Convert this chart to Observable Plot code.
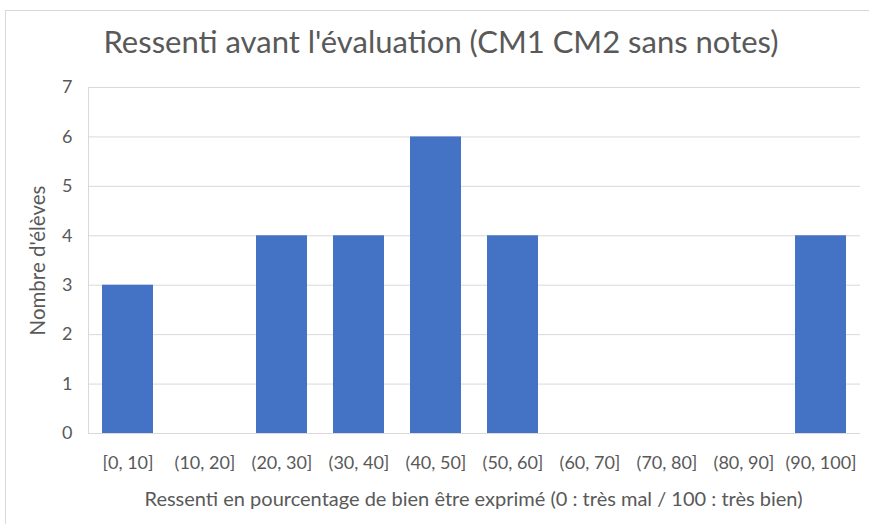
<!DOCTYPE html>
<html><head><meta charset="utf-8">
<script src="https://cdn.jsdelivr.net/npm/d3@7"></script>
<script src="https://cdn.jsdelivr.net/npm/@observablehq/plot@0.6"></script>
<style>
body{margin:0;background:#fff;}
#wrap{position:relative;width:869px;height:524px;font-family:Lato,sans-serif;overflow:hidden;}
#frame{position:absolute;left:5px;top:10px;width:870px;height:530px;border:1px solid #d9d9d9;box-sizing:border-box;}
#title{position:absolute;left:0;top:26px;width:882px;text-align:center;font-size:31px;line-height:1;color:#595959;}
#chart{position:absolute;left:0;top:0;}
</style></head><body>
<div id="wrap"><div id="frame"></div><div id="title">Ressenti avant l'évaluation (CM1 CM2 sans notes)</div><div id="chart"></div></div>
<script>
const categories = ["[0, 10]","(10, 20]","(20, 30]","(30, 40]","(40, 50]","(50, 60]","(60, 70]","(70, 80]","(80, 90]","(90, 100]"];
const counts = [3,0,4,4,6,4,0,0,0,4];
const yTicks = [0,1,2,3,4,5,6,7];
const xLabel = "Ressenti en pourcentage de bien être exprimé (0 : très mal / 100 : très bien)";
const yLabel = "Nombre d'élèves";
const data = categories.map((c,i)=>({cat:c, n:counts[i]}));
const chart = Plot.plot({
  width: 869, height: 524,
  marginLeft: 88, marginRight: 9, marginTop: 87, marginBottom: 91,
  style:{fontFamily:"Lato,sans-serif", color:"#595959", background:"transparent"},
  x:{domain:categories, paddingInner:0.34, paddingOuter:0.17, label:null},
  y:{domain:[0,7], ticks:yTicks, label:null},
  marks:[
    Plot.gridY(yTicks,{stroke:"#d9d9d9", strokeOpacity:1}),
    Plot.frame({anchor:"left", stroke:"#d9d9d9"}),
    Plot.barY(data,{x:"cat", y:"n", fill:"#4472C4"}),
    Plot.axisX({tickSize:0, tickPadding:23, fontSize:18, fill:"#595959", label:null}),
    Plot.axisY(yTicks,{tickSize:0, tickPadding:16, fontSize:18, fill:"#595959", label:null}),
    Plot.text([xLabel],{frameAnchor:"bottom", textAnchor:"middle", dx:-1, dy:72, fontSize:20, fill:"#595959"}),
    Plot.text([yLabel],{frameAnchor:"left", textAnchor:"middle", dx:-50, rotate:-90, fontSize:20.5, fill:"#595959"})
  ]
});
document.getElementById("chart").appendChild(chart);
</script>
</body></html>
